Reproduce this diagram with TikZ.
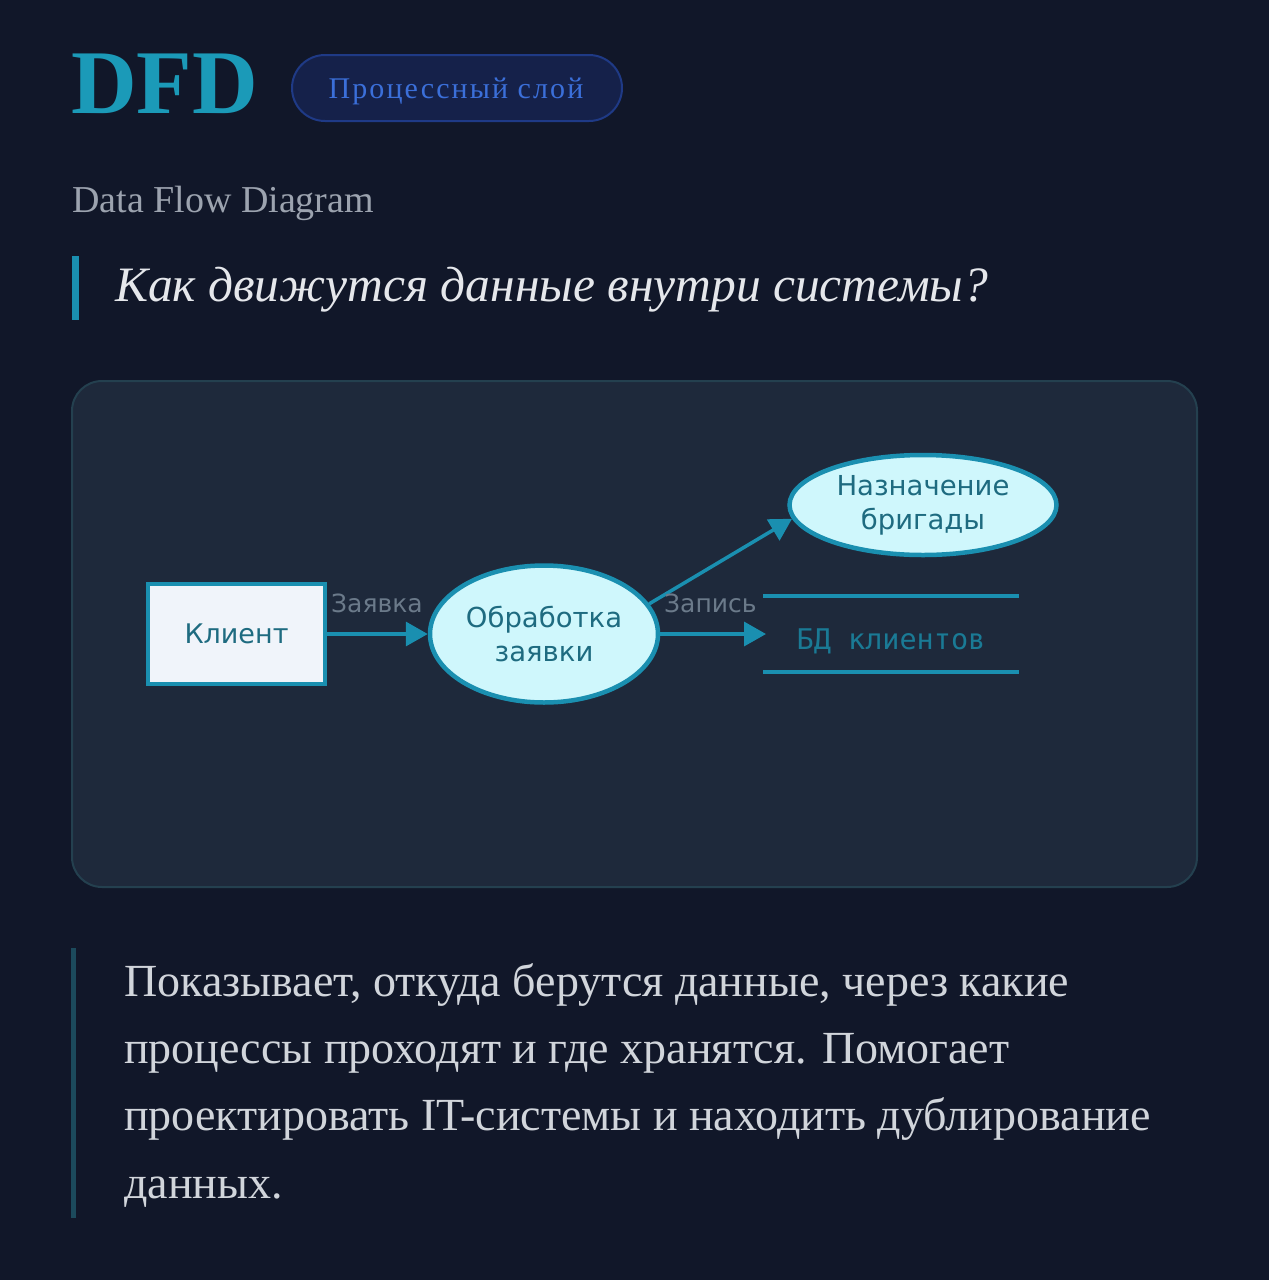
\documentclass[tikz,border=0pt]{standalone}
\usepackage{fontspec}
\setmainfont{Liberation Serif}
\newfontfamily\dvsans{DejaVu Sans}
\newfontfamily\dvmono{DejaVu Sans Mono}
\usetikzlibrary{arrows.meta,shapes.geometric}
\definecolor{bgc}{HTML}{111729}
\definecolor{panelc}{HTML}{1E293B}
\definecolor{panelb}{HTML}{24404F}
\definecolor{tealc}{HTML}{1A8FB0}
\definecolor{dfdc}{HTML}{1B9AB8}
\definecolor{badgef}{HTML}{15214A}
\definecolor{badgeb}{HTML}{1F3A86}
\definecolor{badget}{HTML}{3B6FD9}
\definecolor{subc}{HTML}{9CA3AF}
\definecolor{quotec}{HTML}{E5E7EB}
\definecolor{bodyc}{HTML}{D1D5DB}
\definecolor{nodetext}{HTML}{1E6B80}
\definecolor{entityf}{HTML}{F0F4FA}
\definecolor{procf}{HTML}{CFF7FC}
\definecolor{flowlab}{HTML}{6B7A8A}
\definecolor{storetext}{HTML}{1A7A95}
\definecolor{barc}{HTML}{1C4A5C}
\tikzset{
  entity/.style={draw=tealc, line width=4.5pt, fill=entityf, minimum width=177pt, minimum height=100pt, inner sep=0pt, text=nodetext, font=\dvsans\fontsize{27}{27}\selectfont},
  process/.style={ellipse, draw=tealc, line width=4.5pt, fill=procf, inner sep=0pt, text=nodetext, align=center, font=\dvsans\fontsize{27.5}{34}\selectfont},
  flow/.style={draw=tealc, line width=3.5pt, -{Triangle[length=22pt,width=24pt]}},
  flowlabel/.style={text=flowlab, inner sep=0pt, font=\dvsans\fontsize{25}{25}\selectfont},
  storeline/.style={draw=tealc, line width=3.5pt},
  bodyline/.style={anchor=base west, inner sep=0pt, text=bodyc, font=\fontsize{46}{46}\selectfont},
}
\begin{document}
\begin{tikzpicture}[x=1pt,y=-1pt]
\useasboundingbox (0,0) rectangle (1269,1280);
\fill[bgc] (0,0) rectangle (1269,1280);
% header
\node[anchor=base west, inner sep=0pt, text=dfdc, font=\bfseries\fontsize{91}{91}\selectfont] (title) at (71,113) {DFD};
\node[draw=badgeb, line width=2pt, fill=badgef, rounded corners=33pt, minimum width=330pt, minimum height=66pt, inner sep=0pt] (badge) at (457,88) {};
\node[anchor=base, text=badget, inner sep=0pt, font=\fontsize{30}{30}\selectfont\addfontfeature{LetterSpace=7}] (badgetext) at (456,98) {Процессный слой};
\node[anchor=base west, inner sep=0pt, text=subc, font=\fontsize{38}{38}\selectfont] (sub) at (72,212) {Data Flow Diagram};
\fill[tealc] (72,256) rectangle (79,320);
\node[anchor=base west, inner sep=0pt, text=quotec, font=\itshape\fontsize{49.5}{49.5}\selectfont] (quote) at (115,301) {Как движутся данные внутри системы?};
% panel
\draw[panelb, line width=2pt, fill=panelc, rounded corners=30pt] (72,381) rectangle (1197,887);
% diagram
\node[entity] (client) at (236.5,634) {Клиент};
\node[process, minimum width=228pt, minimum height=137pt] (proc) at (544,634) {Обработка\\заявки};
\node[process, minimum width=267pt, minimum height=100pt] (assign) at (923,505) {Назначение\\бригады};
\coordinate (storeL) at (766,634);
\coordinate (storeTL) at (763,596);
\coordinate (storeTR) at (1019,596);
\coordinate (storeBL) at (763,672);
\coordinate (storeBR) at (1019,672);
\draw[storeline] (storeTL) -- (storeTR);
\draw[storeline] (storeBL) -- (storeBR);
\node[text=storetext, inner sep=0pt, font=\dvmono\fontsize{28.5}{28.5}\selectfont] (store) at (891,641) {БД клиентов};
\draw[flow] (client.east) -- (proc.west);
\draw[flow] (proc.east) -- (storeL);
\draw[flow] (proc.16) -- (assign.186);
\node[flowlabel, anchor=base west] (lab1) at (331,612) {Заявка};
\node[flowlabel, anchor=base west] (lab2) at (664,612) {Запись};
% body
\fill[barc] (71,948) rectangle (76,1218);
\node[bodyline] (body1) at (124,996) {Показывает, откуда берутся данные, через какие};
\node[bodyline] (body2) at (124,1063) {процессы проходят и где хранятся. Помогает};
\node[bodyline] (body3) at (124,1130) {проектировать IT-системы и находить дублирование};
\node[bodyline] (body4) at (124,1198) {данных.};
\end{tikzpicture}
\end{document}
